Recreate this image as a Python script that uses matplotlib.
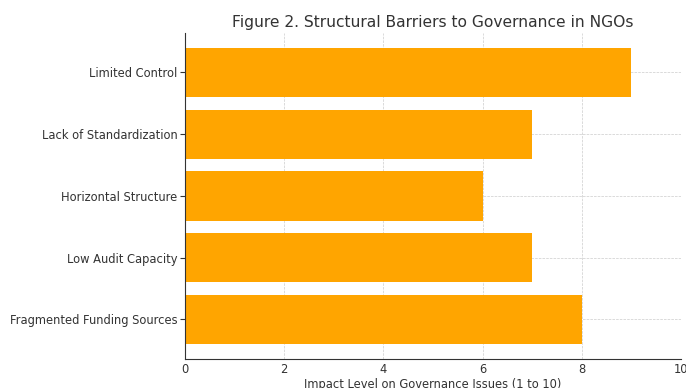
import matplotlib
matplotlib.use('Agg')
import matplotlib.pyplot as plt

# datos del grafico (de abajo hacia arriba)
barreras = ['Fragmented Funding Sources', 'Low Audit Capacity', 'Horizontal Structure',
            'Lack of Standardization', 'Limited Control']
impacto = [8, 7, 6, 7, 9]

TITULO = 'Figure 2. Structural Barriers to Governance in NGOs'
ETIQUETA_X = 'Impact Level on Governance Issues (1 to 10)'
GRIS = '#333333'

fig = plt.figure(figsize=(6.86, 3.88), dpi=100)
ax = fig.add_axes([0.2697, 0.0747, 0.7230, 0.8403])

ax.barh(barreras, impacto, color='orange', height=0.8, zorder=2)
ax.set_xlim(0, 10)
ax.set_title(TITULO, fontsize=11.2, color=GRIS, pad=4)
ax.set_xlabel(ETIQUETA_X, fontsize=8.3, color=GRIS, labelpad=1)
ax.tick_params(labelsize=8.3, colors=GRIS)
ax.tick_params(axis='y', pad=2)
ax.tick_params(axis='x', length=0, pad=3)
ax.grid(True, linestyle='--', linewidth=0.5, color='#cccccc', zorder=0)
ax.spines['top'].set_visible(False)
ax.spines['right'].set_visible(False)
for s in ('left', 'bottom'):
    ax.spines[s].set_color(GRIS)

fig.savefig('out.png', dpi=100)
